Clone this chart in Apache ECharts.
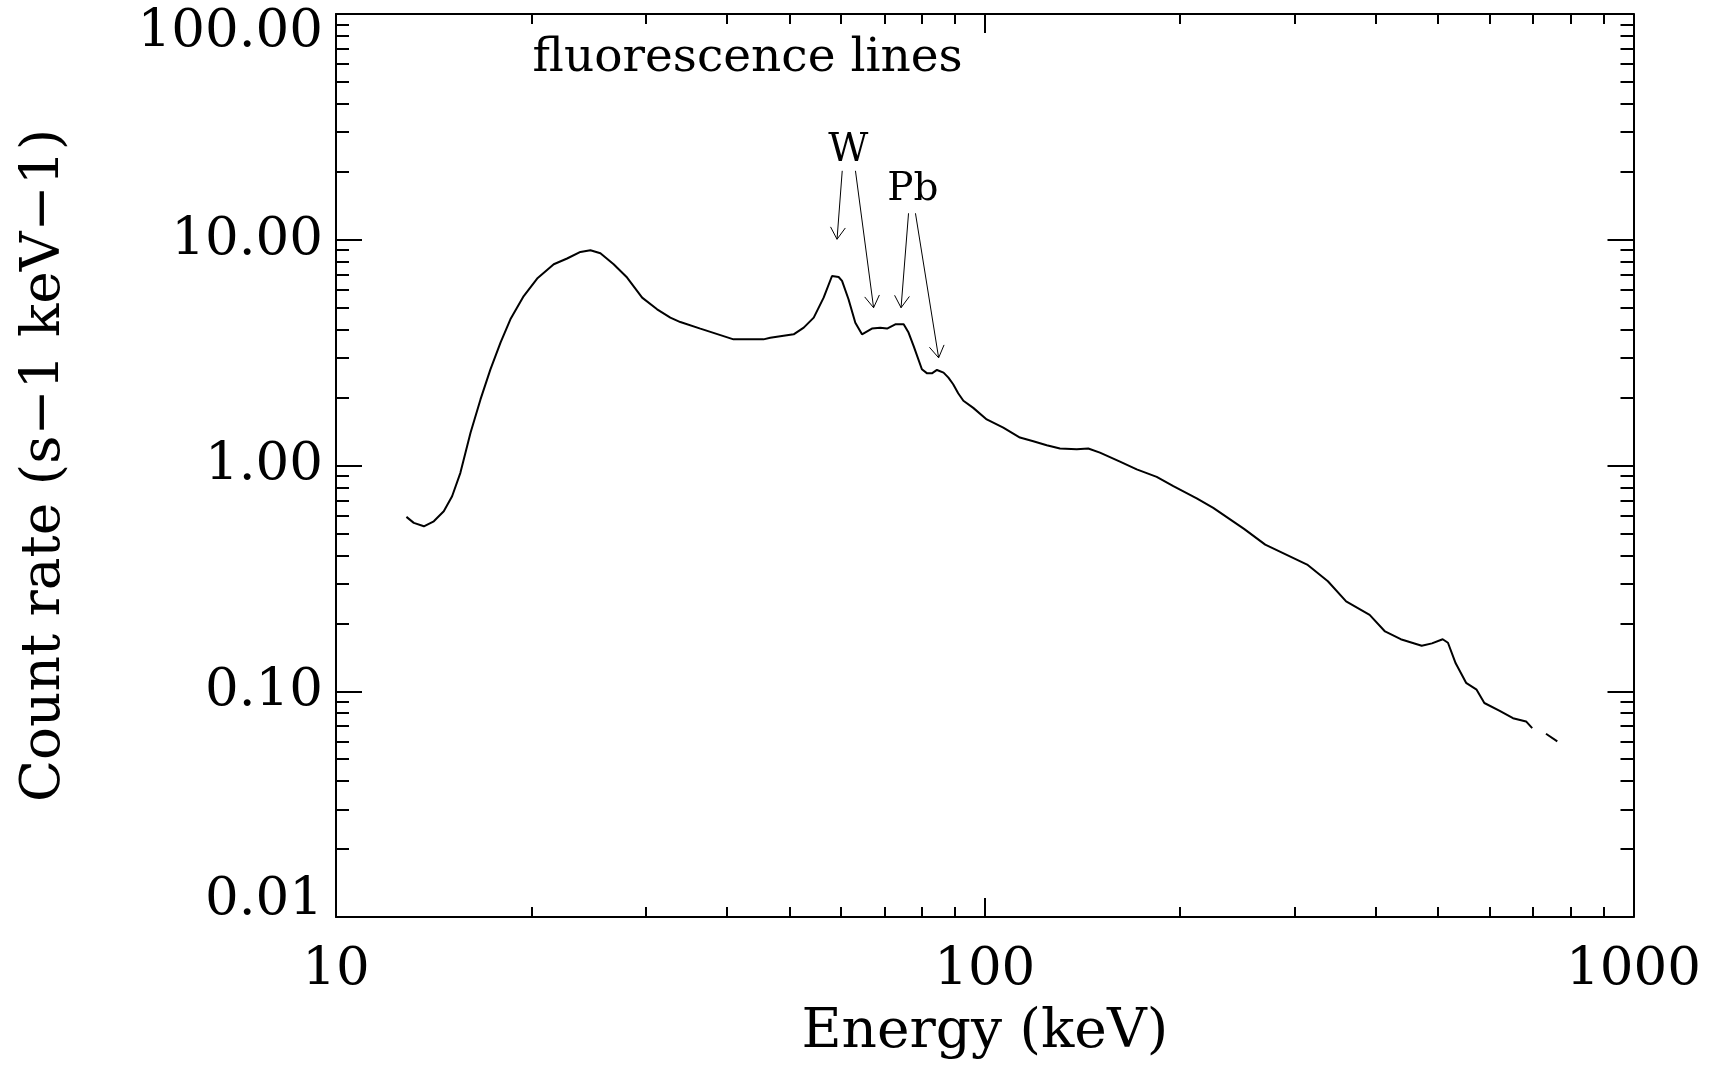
<!DOCTYPE html>
<html><head><meta charset="utf-8">
<script src="https://cdn.jsdelivr.net/npm/echarts@6/dist/echarts.min.js"></script>
<style>html,body{margin:0;padding:0;background:#fff}#c{width:1719px;height:1068px}</style>
</head><body><div id="c"></div>
<script>
// ---- data ----
const energy = [12.84,13.18,13.66,14.15,14.66,15.1,15.55,16.12,16.7,17.3,17.93,18.57,19.47,20.42,21.66,22.71,23.81,24.67,25.56,26.79,28.1,29.64,31.26,32.76,33.94,36.44,41.0,45.6,46.7,50.75,52.6,54.5,56.45,58.15,59.53,60.26,61.66,63.17,64.68,67.0,69.0,70.7,72.8,74.99,76.3,77.7,80.0,81.5,82.9,84.4,86.4,87.9,
  89.4,91.0,92.7,96.0,100.7,106.8,113.3,118.8,124.6,130.6,138.6,144.4,150.5,161.6,171.5,184.1,195.3,212.2,
  225,251,270.6,314,338,360.6,392,414,437.7,471.6,489,508,517.6,532,552,573,589,622,652,683,698,715,733,763];
const rate = [0.592,0.557,0.538,0.566,0.627,0.731,0.928,1.396,1.962,2.666,3.5,4.44,5.63,6.73,7.79,8.26,8.83,8.98,8.71,7.79,6.8,5.54,4.92,4.52,4.32,4.04,3.62,3.62,3.68,3.81,4.08,4.52,5.54,6.91,6.84,6.57,5.45,4.29,3.81,4.04,4.08,4.04,4.22,4.22,3.88,3.38,2.67,2.56,2.56,2.65,2.58,2.45,
  2.29,2.09,1.935,1.80,1.60,1.47,1.33,1.28,1.23,1.19,1.18,1.19,1.14,1.04,0.961,0.891,0.810,0.715,
  0.649,0.524,0.446,0.364,0.307,0.25,0.218,0.184,0.170,0.159,0.163,0.170,0.164,0.133,0.109,0.1016,0.0887,0.0819,0.076,0.0735,0.0687,null,0.0648,0.060];

const xMajorTicks = [10, 100, 1000];
const xMajorLabels = ['10', '100', '1000'];
const xMinorTicks = [20,30,40,50,60,70,80,90,200,300,400,500,600,700,800,900];
const yMajorTicks = [0.01, 0.1, 1, 10, 100];
const yMajorLabels = ['0.01', '0.10', '1.00', '10.00', '100.00'];
const yMinorTicks = [0.02,0.03,0.04,0.05,0.06,0.07,0.08,0.09,0.2,0.3,0.4,0.5,0.6,0.7,0.8,0.9,2,3,4,5,6,7,8,9,20,30,40,50,60,70,80,90];

const xTitle = 'Energy (keV)';
const yTitle = 'Count rate (s\u22121 keV\u22121)';

const annotText = ['fluorescence lines', 'W', 'Pb'];
const annotPos = [[43.1, 63.2], [61.6, 24.8], [77.5, 16.6]];
const arrowFrom = [[60.3, 20.2], [63.2, 20.2], [76.3, 13.1], [78.2, 13.1]];
const arrowTo = [[59.2, 10.05], [67.4, 5.0], [74.3, 5.0], [84.9, 3.0]];

// ---- chart ----
const FONT = 'DejaVu Serif';
const chart = echarts.init(document.getElementById('c'), null, {renderer: 'canvas'});

function findLabel(v, ticks, labels) {
  for (let i = 0; i < ticks.length; i++) {
    if (Math.abs(Math.log10(v) - Math.log10(ticks[i])) < 1e-6) return labels[i];
  }
  return '';
}

const lineStyleAxis = {color: '#000', width: 2};
function xAxisDef(pos, major, withLabels) {
  return {
    type: 'log', logBase: 10, min: 10, max: 1000, gridIndex: 0, position: pos,
    axisLine: {show: major, onZero: false, lineStyle: lineStyleAxis},
    axisTick: {show: true, inside: true, length: major ? 19 : 10, lineStyle: lineStyleAxis,
               customValues: major ? xMajorTicks : xMinorTicks},
    minorTick: {show: false},
    splitLine: {show: false},
    axisLabel: withLabels ? {
      show: true, customValues: xMajorTicks, margin: 27, color: '#000',
      fontFamily: FONT, fontSize: 53,
      formatter: v => findLabel(v, xMajorTicks, xMajorLabels)
    } : {show: false},
    name: withLabels ? xTitle : '',
    nameLocation: 'middle', nameGap: 88,
    nameTextStyle: {fontFamily: FONT, fontSize: 55, color: '#000'}
  };
}
function yAxisDef(pos, major, withLabels) {
  return {
    type: 'log', logBase: 10, min: 0.01, max: 100, gridIndex: 0, position: pos,
    axisLine: {show: major, onZero: false, lineStyle: lineStyleAxis},
    axisTick: {show: true, inside: true, length: major ? 26 : 13, lineStyle: lineStyleAxis,
               customValues: major ? yMajorTicks : yMinorTicks},
    minorTick: {show: false},
    splitLine: {show: false},
    axisLabel: withLabels ? {
      show: true, customValues: yMajorTicks, margin: 13, color: '#000',
      fontFamily: FONT, fontSize: 53,
      formatter: v => {
        const s = findLabel(v, yMajorTicks, yMajorLabels);
        if (Math.abs(v - yMajorTicks[yMajorTicks.length - 1]) < 1e-9) return '{top|' + s + '}';
        if (Math.abs(v - yMajorTicks[0]) < 1e-9) return '{bot|' + s + '}';
        return s;
      },
      rich: {
        top: {fontFamily: FONT, fontSize: 53, color: '#000', padding: [36, 0, 0, 0]},
        bot: {fontFamily: FONT, fontSize: 53, color: '#000', padding: [0, 0, 34, 0]}
      }
    } : {show: false},
    name: withLabels ? yTitle : '',
    nameLocation: 'middle', nameGap: 264, nameRotate: 90,
    nameTextStyle: {fontFamily: FONT, fontSize: 55, color: '#000'}
  };
}

const curve = energy.map((e, i) => [e, rate[i]]);
const arrowShafts = arrowFrom.map((f, i) => [{coord: f}, {coord: arrowTo[i]}]);

const option = {
  animation: false,
  backgroundColor: '#fff',
  grid: {left: 336, right: 85.5, top: 14, bottom: 151, containLabel: false, outerBoundsMode: 'none'},
  xAxis: [xAxisDef('bottom', true, true), xAxisDef('bottom', false, false),
          xAxisDef('top', true, false), xAxisDef('top', false, false)],
  yAxis: [yAxisDef('left', true, true), yAxisDef('left', false, false),
          yAxisDef('right', true, false), yAxisDef('right', false, false)],
  series: [
    {
      type: 'line', xAxisIndex: 0, yAxisIndex: 0, data: curve,
      showSymbol: false, symbol: 'none', connectNulls: false,
      lineStyle: {color: '#000', width: 2}, silent: true,
      markLine: {
        silent: true, animation: false,
        symbol: ['none', 'none'],
        lineStyle: {color: '#000', width: 1, type: 'solid', opacity: 1},
        label: {show: false},
        emphasis: {disabled: true},
        data: arrowShafts
      }
    },
    {
      type: 'scatter', xAxisIndex: 0, yAxisIndex: 0, silent: true,
      symbolSize: 0, itemStyle: {color: '#000', opacity: 1},
      data: annotText.map((t, i) => ({name: t, value: annotPos[i],
        label: {fontSize: i === 0 ? 47 : 39}})),
      label: {show: true, position: 'inside', formatter: '{b}', color: '#000',
              opacity: 1, textBorderWidth: 0, fontFamily: FONT},
      emphasis: {disabled: true}
    }
  ]
};
chart.setOption(option);

// arrowheads: two short arms at each arrow tip, found through the chart's own scales
const finder = {seriesIndex: 0};
const armLen = 14, spread = 32 * Math.PI / 180;
const arms = [];
arrowFrom.forEach((f, i) => {
  const p0 = chart.convertToPixel(finder, f);
  const p1 = chart.convertToPixel(finder, arrowTo[i]);
  const ang = Math.atan2(p1[1] - p0[1], p1[0] - p0[0]);
  [ang + Math.PI - spread, ang + Math.PI + spread].forEach(a => {
    const q = [p1[0] + armLen * Math.cos(a), p1[1] + armLen * Math.sin(a)];
    arms.push([{coord: arrowTo[i]}, {coord: chart.convertFromPixel(finder, q)}]);
  });
});
chart.setOption({series: [{markLine: {data: arrowShafts.concat(arms)}}]});
</script>
</body></html>
